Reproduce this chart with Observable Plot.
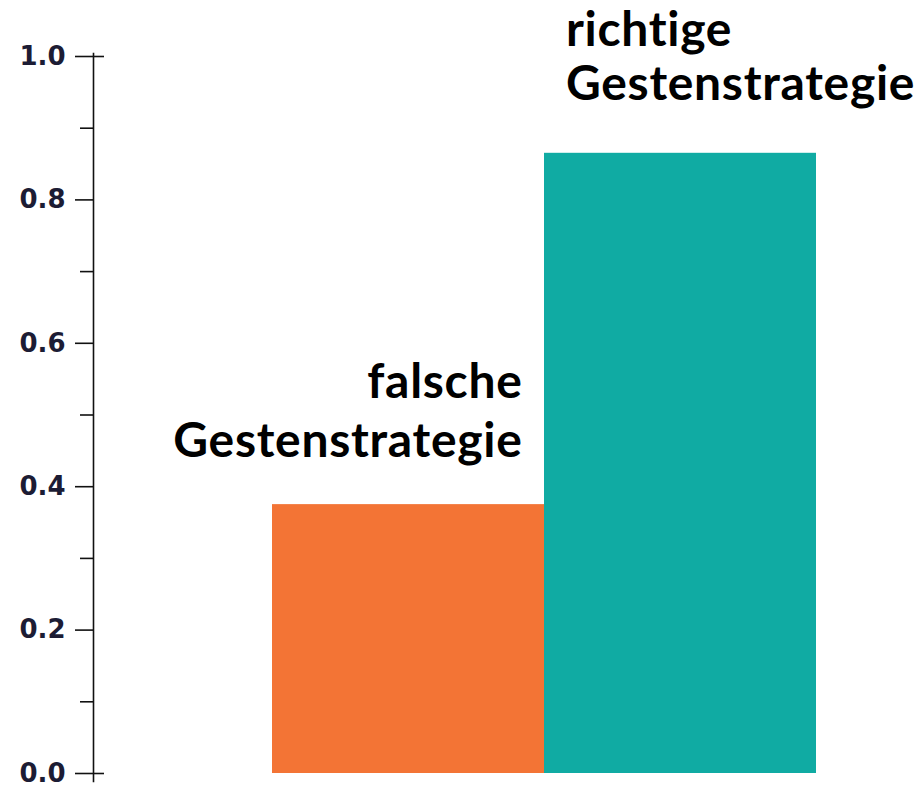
<!DOCTYPE html>
<html>
<head>
<meta charset="utf-8">
<script src="https://cdn.jsdelivr.net/npm/d3@7"></script>
<script src="https://cdn.jsdelivr.net/npm/@observablehq/plot@0.6"></script>
<style>
  html, body { margin: 0; padding: 0; background: #fff; }
  #chart { width: 920px; height: 786px; }
  #chart text { font-variant-ligatures: none; font-feature-settings: "liga" 0; }
  #chart g[aria-label="y-axis tick label"] text {
    font-family: "DejaVu Sans", sans-serif;
    font-weight: bold;
    font-size: 26px;
  }
  #chart g[aria-label="text"] text { letter-spacing: 0.7px; }
</style>
</head>
<body>
<div id="chart"></div>
<script>
const categories = ["falsche Gestenstrategie", "richtige Gestenstrategie"];
const labelLines = ["falsche\nGestenstrategie", "richtige\nGestenstrategie"];
const values = [0.375, 0.865];
const colors = ["#F37435", "#10ABA3"];
const majorTicks = [0, 0.2, 0.4, 0.6, 0.8, 1.0];
const minorTicks = [0.1, 0.3, 0.5, 0.7, 0.9];
const endTicks = [0, 1.0];

const data = categories.map((c, i) => ({category: c, label: labelLines[i], value: values[i]}));

const labelFont = "Lato, 'Open Sans', sans-serif";

const chart = Plot.plot({
  width: 920,
  height: 786,
  marginLeft: 93,
  marginRight: 104,
  marginTop: 56,
  marginBottom: 13,
  style: {background: "#fff", overflow: "visible"},
  x: {domain: categories, range: [271, 816], padding: 0, axis: null},
  y: {domain: [0, 1], axis: null},
  color: {domain: categories, range: colors},
  marks: [
    Plot.barY(data, {x: "category", y: "value", fill: "category"}),
    Plot.frame({anchor: "left", stroke: "#111", strokeWidth: 1.6, insetTop: -3, insetBottom: -8}),
    Plot.axisY(majorTicks, {
      anchor: "left", label: null, tickSize: 18, tickPadding: 10, strokeWidth: 1.6, stroke: "#111",
      tickFormat: d3.format(".1f"), fontSize: 26, fill: "#1c1c34"
    }),
    Plot.axisY(minorTicks, {anchor: "left", label: null, tickSize: 13, strokeWidth: 1.6, stroke: "#111", text: null}),
    Plot.axisY(endTicks, {anchor: "left", label: null, tickSize: -11, strokeWidth: 1.6, stroke: "#111", text: null}),
    Plot.text([data[0]], {
      x: "category", y: "value", text: "label",
      textAnchor: "end", lineAnchor: "bottom", dx: 114, dy: -48,
      fontSize: 48, fontWeight: "bold", fontFamily: labelFont, fill: "#000", lineHeight: 1.22
    }),
    Plot.text([data[1]], {
      x: "category", y: "value", text: "label",
      textAnchor: "start", lineAnchor: "bottom", dx: -114.5, dy: -53,
      fontSize: 48, fontWeight: "bold", fontFamily: labelFont, fill: "#000", lineHeight: 1.14
    })
  ]
});

document.getElementById("chart").appendChild(chart);
</script>
</body>
</html>
